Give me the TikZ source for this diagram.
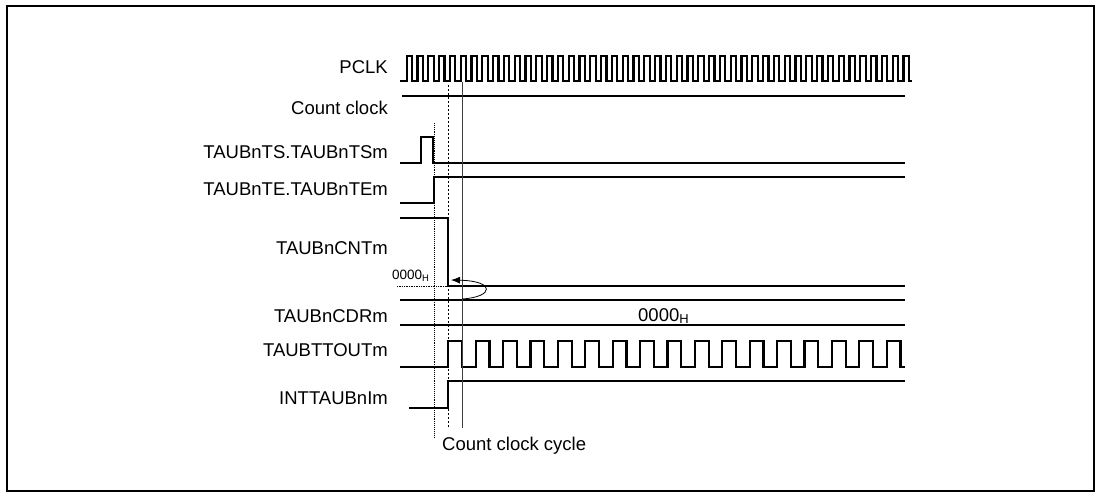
\documentclass[tikz,border=0pt]{standalone}
\usepackage{fontspec}
\setmainfont{Liberation Sans}
\usetikzlibrary{arrows.meta}

\begin{document}
\begin{tikzpicture}[x=1pt,y=-1pt,lbl/.style={anchor=base east,inner sep=0pt,font=\fontsize{18.5}{22}\selectfont},note/.style={anchor=base west,inner sep=0pt,font=\fontsize{18.5}{22}\selectfont},wave/.style={line width=2.2pt},guide/.style={line width=0.9pt},loadarrow/.style={-{Latex[length=9pt,width=7pt]},line width=0.8pt}]
 \useasboundingbox (0,0) rectangle (1102,497);
 \draw[line width=2pt] (7,6) rectangle (1094,491);
 % signal names
 \node[lbl] (pclk) at (388,74) {PCLK}; \node[lbl] (cclk) at (388,115) {Count clock};
 \node[lbl] (ts) at (388,159) {TAUBnTS.TAUBnTSm}; \node[lbl] (te) at (388,196) {TAUBnTE.TAUBnTEm};
 \node[lbl] (cnt) at (388,254) {TAUBnCNTm}; \node[lbl] (cdr) at (388,322) {TAUBnCDRm};
 \node[lbl] (ttout) at (388,356) {TAUBTTOUTm}; \node[lbl] (int) at (388,404) {INTTAUBnIm};
 % waveforms
 \draw[wave] (400,81) \foreach \k in {0,...,46} {-- ({406.7+10.8*\k},81) -- ++(0,-25) -- ++(5.4,0) -- ++(0,25)} -- (912,81);
 \draw[wave] (402,96) -- (905,96);
 \draw[wave] (400,163) -- (421,163) -- (421,137) -- (433,137) -- (433,163) -- (905,163);
 \draw[wave] (400,203) -- (434,203) -- (434,177) -- (905,177);
 \draw[wave] (400,218) -- (448,218) -- (448,286) -- (905,286);
 \draw[wave] (400,300) -- (905,300); \draw[wave] (400,325) -- (905,325);
 \draw[wave] (400,367) \foreach \k in {0,...,16} {-- ({448.3+27.4*\k},367) -- ++(0,-26) -- ++(13.7,0) -- ++(0,26)} -- (905,367);
 \draw[wave] (409,408) -- (448,408) -- (448,381) -- (905,381);
 % timing guides
 \draw[guide,densely dotted] (434,123) -- (434,437);
 \draw[guide,dash pattern=on 2pt off 2pt] (448,85) -- (448,427);
 \draw[line width=0.6pt,black!75] (462,82) -- (462,428);
 \draw[line width=0.7pt,densely dotted] (397,286) -- (448,286);
 % reload of the counter
 \coordinate (cdrload) at (462,299); \coordinate (cntzero) at (451,280);
 \draw[loadarrow] (cdrload) .. controls (494,297) and (496,281) .. (cntzero);
 \node[anchor=base west,inner sep=0pt,font=\fontsize{13.5}{16}\selectfont] (cntval) at (392,279) {0000\textsubscript{H}};
 \node[note] (cdrval) at (638,321) {0000\textsubscript{H}};
 \node[note] (cycle) at (442,450) {Count clock cycle};
\end{tikzpicture}
\end{document}
